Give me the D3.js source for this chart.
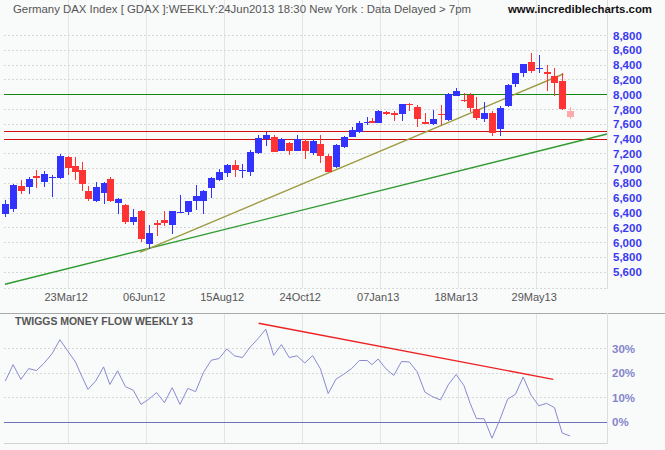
<!DOCTYPE html>
<html><head><meta charset="utf-8">
<script src="https://cdn.jsdelivr.net/npm/d3@7"></script>
<style>
body{margin:0;background:#f9fafa;}
svg{display:block;font-family:"Liberation Sans",Arial,sans-serif;}
</style>
</head><body>
<svg id="chart" width="665" height="450"></svg>
<script>
// ---------- DATA ----------
const weekEnding = [
"2012-01-27","2012-02-03","2012-02-10","2012-02-17","2012-02-24","2012-03-02","2012-03-09","2012-03-16",
"2012-03-23","2012-03-30","2012-04-05","2012-04-13","2012-04-20","2012-04-27","2012-05-04","2012-05-11",
"2012-05-18","2012-05-25","2012-06-01","2012-06-08","2012-06-15","2012-06-22","2012-06-29","2012-07-06",
"2012-07-13","2012-07-20","2012-07-27","2012-08-03","2012-08-10","2012-08-17","2012-08-24","2012-08-31",
"2012-09-07","2012-09-14","2012-09-21","2012-09-28","2012-10-05","2012-10-12","2012-10-19","2012-10-26",
"2012-11-02","2012-11-09","2012-11-16","2012-11-23","2012-11-30","2012-12-07","2012-12-14","2012-12-21",
"2012-12-28","2013-01-04","2013-01-11","2013-01-18","2013-01-25","2013-02-01","2013-02-08","2013-02-15",
"2013-02-22","2013-03-01","2013-03-08","2013-03-15","2013-03-22","2013-03-28","2013-04-05","2013-04-12",
"2013-04-19","2013-04-26","2013-05-03","2013-05-10","2013-05-17","2013-05-24","2013-05-31","2013-06-07",
"2013-06-14","2013-06-21","2013-06-28"];

const openPrice = [6384,6448,6759,6749,6898,6817,6870,6871,7151,7033,6975,6691,6560,6668,6853,6525,
6502,6276,6425,5979,6262,6299,6235,6400,6411,6560,6560,6736,6840,6938,7043,6970,
6952,7209,7390,7417,7236,7344,7236,7371,7209,7326,7164,7011,7290,7425,7493,7625,
7637,7614,7759,7746,7736,7871,7827,7624,7597,7736,7651,7975,7925,7989,7800,7664,
7746,7525,7840,8134,8290,8431,8340,8300,8246,8178,7773];
const highPrice = [6569,6780,6840,6880,6975,6961,6911,7191,7160,7155,7087,6759,6813,6810,6880,6590,
6515,6448,6434,6231,6299,6421,6425,6637,6560,6772,6700,6884,6984,7050,7110,7056,
7245,7448,7485,7448,7403,7350,7448,7390,7380,7448,7191,7320,7435,7560,7641,7696,
7674,7786,7773,7777,7870,7880,7850,7750,7786,7854,8012,8079,8020,8020,7958,7898,
7777,7840,8138,8290,8410,8557,8530,8394,8350,8282,7823];
const lowPrice = [6344,6407,6650,6650,6736,6749,6614,6853,6907,6840,6691,6556,6542,6511,6538,6384,
6241,6231,6006,5907,6083,6222,6106,6395,6363,6434,6380,6601,6830,6884,6884,6871,
6898,7191,7303,7215,7230,7178,7230,7124,7178,7074,6945,6998,7276,7420,7471,7583,
7610,7610,7714,7641,7641,7777,7560,7595,7583,7583,7641,7970,7890,7763,7651,7620,
7439,7439,7823,8101,8228,8282,8290,8043,7975,7790,7664];
const closePrice = [6515,6772,6691,6853,6871,6925,6880,7164,7006,6952,6782,6587,6745,6803,6556,6583,
6276,6336,6042,6119,6235,6262,6421,6405,6556,6623,6691,6871,6948,7043,6975,6980,
7223,7403,7448,7222,7390,7236,7390,7236,7371,7168,6952,7313,7417,7516,7606,7630,
7614,7773,7728,7714,7867,7850,7660,7601,7664,7714,7998,8043,7915,7809,7674,7746,
7471,7813,8124,8282,8408,8317,8350,8269,8147,7796,7696];

const moneyFlow = [16.5,23.2,17.2,21.6,20.8,23.9,27.7,33.4,28.8,24.3,18.5,13.1,16.6,22.3,15.1,20.7,
14.2,12.8,7.0,9.1,11.8,7.7,13.8,7.0,13.5,12.2,20.0,25.0,25.7,29.6,26.8,26.1,
30.4,33.8,37.7,27.0,31.4,26.1,26.8,23.9,26.9,21.5,11.4,17.3,19.3,21.6,24.9,24.9,
23.2,25.5,21.5,18.8,24.5,24.3,20.3,12.0,10.1,8.8,15.0,19.2,14.7,7.4,1.2,1.1,
-6.8,0.7,9.1,11.1,18.2,10.8,6.4,7.4,5.7,-4.7,-5.9];

const holidays = ["2012-04-06","2012-04-09","2012-05-01","2012-12-25","2012-12-26",
                  "2013-01-01","2013-03-29","2013-04-01"];

const tickDates  = ["2012-03-23","2012-06-06","2012-08-15","2012-10-24","2013-01-07","2013-03-18","2013-05-29"];
const tickLabels = ["23Mar12","06Jun12","15Aug12","24Oct12","07Jan13","18Mar13","29May13"];

const priceTicks = [5600,5800,6000,6200,6400,6600,6800,7000,7200,7400,7600,7800,8000,8200,8400,8600,8800];
const mfTicks = [0,10,20,30];

const greenLevels = [8000];
const redLevels = [7500,7390];
// trend lines: [trading-day index, value]
const longTrend = [[-0.2,5430],[385.7,7462]];
const shortTrend = [[86.3,5862],[357.7,8273]];
const mfTrend = [[162.4,40.1],[351.3,17.2]];

// ---------- HELPERS ----------
const holidaySet = new Set(holidays);
const startDate = new Date(weekEnding[0] + "T00:00:00Z");
function tradingDay(s){
  const end = new Date(s + "T00:00:00Z");
  let n = 0;
  const d = new Date(startDate);
  const sign = end >= startDate ? 1 : -1;
  while ((sign > 0 && d < end) || (sign < 0 && d > end)) {
    d.setUTCDate(d.getUTCDate() + sign);
    const wd = d.getUTCDay();
    const key = d.toISOString().slice(0,10);
    if (wd !== 0 && wd !== 6 && !holidaySet.has(key)) n += sign;
  }
  return n;
}

const bars = weekEnding.map((w,i)=>({day:tradingDay(w),o:openPrice[i],h:highPrice[i],l:lowPrice[i],c:closePrice[i],mf:moneyFlow[i],last:i===weekEnding.length-1}));

// ---------- LAYOUT ----------
const svg = d3.select("#chart");
const L = 4, R = 607;
const mainTop = 0, mainBottom = 288;
const indTop = 313, indBottom = 443;

const x = d3.scaleLinear().domain([0,362]).range([5.3,570]);
const y = d3.scaleLinear().domain([5600,8800]).range([271.7,35]);
const ym = d3.scaleLinear().domain([0,30]).range([421.5,348]);

svg.append("rect").attr("width",665).attr("height",450).attr("fill","#f9fafa");

// vertical grid (main + indicator)
const tickDays = tickDates.map(tradingDay);
svg.append("g").selectAll("line").data(tickDays).join("line")
  .attr("x1",d=>Math.round(x(d))+0.5).attr("x2",d=>Math.round(x(d))+0.5)
  .attr("y1",mainTop).attr("y2",mainBottom).attr("stroke","#e3e5e5");
svg.append("g").selectAll("line").data(tickDays).join("line")
  .attr("x1",d=>Math.round(x(d))+0.5).attr("x2",d=>Math.round(x(d))+0.5)
  .attr("y1",indTop).attr("y2",indBottom).attr("stroke","#e3e5e5");

// horizontal price grid
svg.append("g").selectAll("line").data(priceTicks).join("line")
  .attr("x1",L).attr("x2",R)
  .attr("y1",d=>Math.round(y(d))+0.5).attr("y2",d=>Math.round(y(d))+0.5)
  .attr("stroke","#d6d8d8").attr("stroke-dasharray","2,2");
svg.append("line").attr("x1",L).attr("x2",R).attr("y1",mainBottom+0.5).attr("y2",mainBottom+0.5)
  .attr("stroke","#d6d8d8").attr("stroke-dasharray","2,2");

// right border main
svg.append("line").attr("x1",R+0.5).attr("x2",R+0.5).attr("y1",mainTop).attr("y2",mainBottom+1).attr("stroke","#dcdede");

// price axis labels
const yAxis = d3.axisRight(y).tickValues(priceTicks).tickFormat(d3.format(",")).tickSize(0).tickPadding(0);
const ya = svg.append("g").attr("transform",`translate(${R+6},0)`).call(yAxis);
ya.select(".domain").remove();
ya.selectAll("text").attr("fill","#3a3af0").attr("font-size","11.5px").attr("font-weight","bold")
  .attr("font-family","'Liberation Sans',Arial,sans-serif").attr("dy","0.35em");

// x labels
const xAxis = d3.axisBottom(x).tickValues(tickDays).tickFormat((d,i)=>tickLabels[i]).tickSize(0).tickPadding(0);
const xa = svg.append("g").attr("transform",`translate(-2,${mainBottom+5})`).call(xAxis);
xa.select(".domain").remove();
xa.selectAll("text").attr("fill","#555").attr("font-size","11px")
  .attr("font-family","'Liberation Sans',Arial,sans-serif").attr("dy","0.75em");

// levels
svg.append("g").selectAll("line").data(greenLevels).join("line")
  .attr("x1",L).attr("x2",R).attr("y1",d=>Math.round(y(d))+0.5).attr("y2",d=>Math.round(y(d))+0.5)
  .attr("stroke","#118811").attr("stroke-width",1.2);
svg.append("g").selectAll("line").data(redLevels).join("line")
  .attr("x1",L).attr("x2",R).attr("y1",d=>Math.round(y(d))+0.5).attr("y2",d=>Math.round(y(d))+0.5)
  .attr("stroke","#d01010").attr("stroke-width",1.2);

// trend lines
const tl = d3.line().x(d=>x(d[0])).y(d=>y(d[1]));
svg.append("path").attr("d",tl(longTrend)).attr("fill","none").attr("stroke","#2f9a2f").attr("stroke-width",1.4);
svg.append("path").attr("d",tl(shortTrend)).attr("fill","none").attr("stroke","#9c9c40").attr("stroke-width",1.4);

// candles
const cg = svg.append("g").attr("shape-rendering","crispEdges");
const colorOf = b => b.last ? "#ffaaaa" : (b.c >= b.o ? "#3333ff" : "#ff3333");
cg.selectAll("line.wick").data(bars).join("line").attr("class","wick")
  .attr("x1",b=>Math.round(x(b.day))+0.5).attr("x2",b=>Math.round(x(b.day))+0.5)
  .attr("y1",b=>y(b.h)).attr("y2",b=>y(b.l)).attr("stroke",colorOf).attr("stroke-width",1);
cg.selectAll("rect.body").data(bars).join("rect").attr("class","body")
  .attr("x",b=>Math.round(x(b.day))-3).attr("width",7)
  .attr("y",b=>y(Math.max(b.o,b.c)))
  .attr("height",b=>Math.max(1.2,Math.abs(y(b.o)-y(b.c))))
  .attr("fill",colorOf);

// title
svg.append("text").attr("x",13).attr("y",13).attr("fill","#555").attr("font-size","11px")
  .attr("textLength",458).attr("lengthAdjust","spacingAndGlyphs")
  .text("Germany DAX Index [ GDAX ]:WEEKLY:24Jun2013 18:30 New York : Data Delayed > 7pm");
svg.append("text").attr("x",508).attr("y",13).attr("fill","#111").attr("font-size","11px").attr("font-weight","bold")
  .attr("textLength",144).attr("lengthAdjust","spacingAndGlyphs")
  .text("www.incrediblecharts.com");

// ---------- INDICATOR ----------
svg.append("line").attr("x1",0).attr("x2",665).attr("y1",indTop+0.5).attr("y2",indTop+0.5).attr("stroke","#a8aaaa");
svg.append("line").attr("x1",L).attr("x2",R).attr("y1",indBottom+0.5).attr("y2",indBottom+0.5).attr("stroke","#d0d2d2");
svg.append("line").attr("x1",R+0.5).attr("x2",R+0.5).attr("y1",indTop).attr("y2",indBottom+1).attr("stroke","#dcdede");

svg.append("g").selectAll("line").data(mfTicks.filter(d=>d!==0)).join("line")
  .attr("x1",L).attr("x2",R).attr("y1",d=>Math.round(ym(d))+0.5).attr("y2",d=>Math.round(ym(d))+0.5)
  .attr("stroke","#d6d8d8").attr("stroke-dasharray","2,2");
svg.append("line").attr("x1",L).attr("x2",R).attr("y1",Math.round(ym(0))+0.5).attr("y2",Math.round(ym(0))+0.5)
  .attr("stroke","#7070b8").attr("stroke-width",1.2);

const mfAxis = d3.axisRight(ym).tickValues(mfTicks).tickFormat(d=>d+"%").tickSize(0).tickPadding(0);
const ma = svg.append("g").attr("transform",`translate(${R+5},0)`).call(mfAxis);
ma.select(".domain").remove();
ma.selectAll("text").attr("fill","#8585cc").attr("font-size","11.5px").attr("font-weight","bold")
  .attr("font-family","'Liberation Sans',Arial,sans-serif").attr("dy","0.35em");

svg.append("text").attr("x",15).attr("y",325).attr("fill","#555").attr("font-size","11px").attr("font-weight","bold")
  .attr("textLength",178).attr("lengthAdjust","spacingAndGlyphs")
  .text("TWIGGS MONEY FLOW WEEKLY 13");

svg.append("path").datum(bars)
  .attr("d",d3.line().x(b=>x(b.day)).y(b=>ym(b.mf)))
  .attr("fill","none").attr("stroke","#8a8ad0").attr("stroke-width",1);

svg.append("path").attr("d",d3.line().x(d=>x(d[0])).y(d=>ym(d[1]))(mfTrend))
  .attr("fill","none").attr("stroke","#ee2222").attr("stroke-width",1.4);
</script>
</body></html>
